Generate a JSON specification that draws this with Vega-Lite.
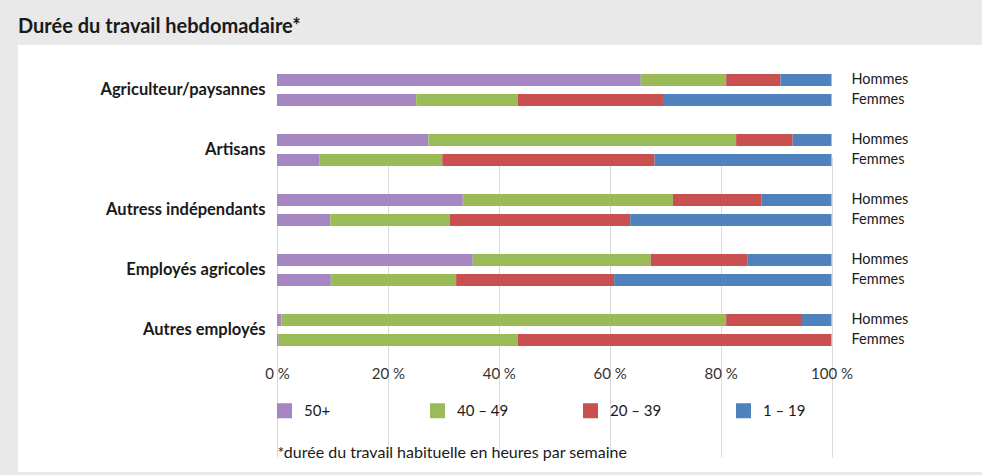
{
  "$schema": "https://vega.github.io/schema/vega-lite/v6.json",
  "autosize": "none",
  "width": 964,
  "height": 427,
  "padding": {"left": 18, "top": 45, "right": 0, "bottom": 3},
  "background": "#e9e9e9",
  "config": {
    "font": "Lato",
    "view": {"fill": "white", "stroke": null}
  },
  "title": {
    "text": "Durée du travail hebdomadaire*",
    "anchor": "start",
    "frame": "group",
    "fontSize": 20,
    "fontWeight": "bold",
    "color": "#1a1a1a",
    "baseline": "alphabetic",
    "offset": 12,
    "dy": 20
  },
  "data": {
    "values": [
      {"cat": "Agriculteur/paysannes", "sex": "Hommes", "hours": "50+", "o": 1, "pct": 65.6},
      {"cat": "Agriculteur/paysannes", "sex": "Hommes", "hours": "40 – 49", "o": 2, "pct": 15.4},
      {"cat": "Agriculteur/paysannes", "sex": "Hommes", "hours": "20 – 39", "o": 3, "pct": 9.8},
      {"cat": "Agriculteur/paysannes", "sex": "Hommes", "hours": "1 – 19", "o": 4, "pct": 9.2},
      {"cat": "Agriculteur/paysannes", "sex": "Femmes", "hours": "50+", "o": 1, "pct": 25.1},
      {"cat": "Agriculteur/paysannes", "sex": "Femmes", "hours": "40 – 49", "o": 2, "pct": 18.3},
      {"cat": "Agriculteur/paysannes", "sex": "Femmes", "hours": "20 – 39", "o": 3, "pct": 26.2},
      {"cat": "Agriculteur/paysannes", "sex": "Femmes", "hours": "1 – 19", "o": 4, "pct": 30.4},
      {"cat": "Artisans", "sex": "Hommes", "hours": "50+", "o": 1, "pct": 27.3},
      {"cat": "Artisans", "sex": "Hommes", "hours": "40 – 49", "o": 2, "pct": 55.5},
      {"cat": "Artisans", "sex": "Hommes", "hours": "20 – 39", "o": 3, "pct": 10.2},
      {"cat": "Artisans", "sex": "Hommes", "hours": "1 – 19", "o": 4, "pct": 7.0},
      {"cat": "Artisans", "sex": "Femmes", "hours": "50+", "o": 1, "pct": 7.6},
      {"cat": "Artisans", "sex": "Femmes", "hours": "40 – 49", "o": 2, "pct": 22.2},
      {"cat": "Artisans", "sex": "Femmes", "hours": "20 – 39", "o": 3, "pct": 38.3},
      {"cat": "Artisans", "sex": "Femmes", "hours": "1 – 19", "o": 4, "pct": 31.9},
      {"cat": "Autress indépendants", "sex": "Hommes", "hours": "50+", "o": 1, "pct": 33.5},
      {"cat": "Autress indépendants", "sex": "Hommes", "hours": "40 – 49", "o": 2, "pct": 37.9},
      {"cat": "Autress indépendants", "sex": "Hommes", "hours": "20 – 39", "o": 3, "pct": 16.0},
      {"cat": "Autress indépendants", "sex": "Hommes", "hours": "1 – 19", "o": 4, "pct": 12.6},
      {"cat": "Autress indépendants", "sex": "Femmes", "hours": "50+", "o": 1, "pct": 9.6},
      {"cat": "Autress indépendants", "sex": "Femmes", "hours": "40 – 49", "o": 2, "pct": 21.6},
      {"cat": "Autress indépendants", "sex": "Femmes", "hours": "20 – 39", "o": 3, "pct": 32.5},
      {"cat": "Autress indépendants", "sex": "Femmes", "hours": "1 – 19", "o": 4, "pct": 36.3},
      {"cat": "Employés agricoles", "sex": "Hommes", "hours": "50+", "o": 1, "pct": 35.3},
      {"cat": "Employés agricoles", "sex": "Hommes", "hours": "40 – 49", "o": 2, "pct": 32.1},
      {"cat": "Employés agricoles", "sex": "Hommes", "hours": "20 – 39", "o": 3, "pct": 17.5},
      {"cat": "Employés agricoles", "sex": "Hommes", "hours": "1 – 19", "o": 4, "pct": 15.1},
      {"cat": "Employés agricoles", "sex": "Femmes", "hours": "50+", "o": 1, "pct": 9.7},
      {"cat": "Employés agricoles", "sex": "Femmes", "hours": "40 – 49", "o": 2, "pct": 22.6},
      {"cat": "Employés agricoles", "sex": "Femmes", "hours": "20 – 39", "o": 3, "pct": 28.5},
      {"cat": "Employés agricoles", "sex": "Femmes", "hours": "1 – 19", "o": 4, "pct": 39.2},
      {"cat": "Autres employés", "sex": "Hommes", "hours": "50+", "o": 1, "pct": 0.8},
      {"cat": "Autres employés", "sex": "Hommes", "hours": "40 – 49", "o": 2, "pct": 80.2},
      {"cat": "Autres employés", "sex": "Hommes", "hours": "20 – 39", "o": 3, "pct": 13.5},
      {"cat": "Autres employés", "sex": "Hommes", "hours": "1 – 19", "o": 4, "pct": 5.5},
      {"cat": "Autres employés", "sex": "Femmes", "hours": "50+", "o": 1, "pct": 0.3},
      {"cat": "Autres employés", "sex": "Femmes", "hours": "40 – 49", "o": 2, "pct": 43.1},
      {"cat": "Autres employés", "sex": "Femmes", "hours": "20 – 39", "o": 3, "pct": 56.6},
      {"cat": "Autres employés", "sex": "Femmes", "hours": "1 – 19", "o": 4, "pct": 0}
    ]
  },
  "encoding": {
    "y": {
      "field": "cat",
      "type": "nominal",
      "sort": null,
      "scale": {"range": [15, 315], "paddingInner": 0.4667, "paddingOuter": 0.2333},
      "axis": {
        "title": null,
        "offset": -259,
        "labelPadding": 12,
        "labelFontSize": 16.5,
        "labelFontWeight": "bold",
        "labelColor": "#1a1a1a",
        "domain": false,
        "ticks": false,
        "grid": false,
        "labelLimit": 300
      }
    },
    "yOffset": {
      "field": "sex",
      "type": "nominal",
      "sort": ["Hommes", "Femmes"],
      "scale": {"paddingInner": 0.4, "paddingOuter": 0}
    }
  },
  "layer": [
    {
      "mark": {"type": "bar"},
      "encoding": {
        "x": {
          "field": "pct",
          "type": "quantitative",
          "stack": "zero",
          "scale": {"domain": [-46.71, 127.14], "nice": false, "zero": false},
          "axis": {
            "values": [0, 20, 40, 60, 80, 100],
            "labelExpr": "datum.value + '\u202f%'",
            "labelFontSize": 15,
            "labelColor": "#333333",
            "labelPadding": 6,
            "ticks": false,
            "domain": false,
            "grid": true,
            "gridColor": "#dadada",
            "gridWidth": 1,
            "offset": -112,
            "title": "*durée du travail habituelle en heures par semaine",
            "titleFontSize": 16,
            "titleFontWeight": "normal",
            "titleColor": "#1a1a1a",
            "titleX": 259,
            "titleY": 97,
            "titleAlign": "left",
            "titleBaseline": "alphabetic",
            "titleAnchor": "start"
          }
        },
        "color": {
          "field": "hours",
          "type": "nominal",
          "scale": {
            "domain": ["50+", "40 – 49", "20 – 39", "1 – 19"],
            "range": ["#a585c2", "#9bbb59", "#c9504f", "#4f81bd"]
          },
          "legend": {
            "orient": "none",
            "legendX": 259,
            "legendY": 358,
            "direction": "horizontal",
            "columns": 4,
            "title": null,
            "symbolType": "square",
            "symbolSize": 225,
            "symbolStrokeWidth": 0,
            "symbolOpacity": 1,
            "labelFontSize": 15,
            "labelColor": "#1a1a1a",
            "labelOffset": 12,
            "columnPadding": 74,
            "gridAlign": "all"
          }
        },
        "order": {"field": "o", "type": "quantitative"}
      }
    },
    {
      "transform": [{"filter": "datum.hours === '50+'"}],
      "mark": {"type": "text", "align": "left", "dx": 20, "fontSize": 14.5, "color": "#1a1a1a"},
      "encoding": {
        "x": {"datum": 100, "type": "quantitative"},
        "text": {"field": "sex"}
      }
    }
  ]
}
